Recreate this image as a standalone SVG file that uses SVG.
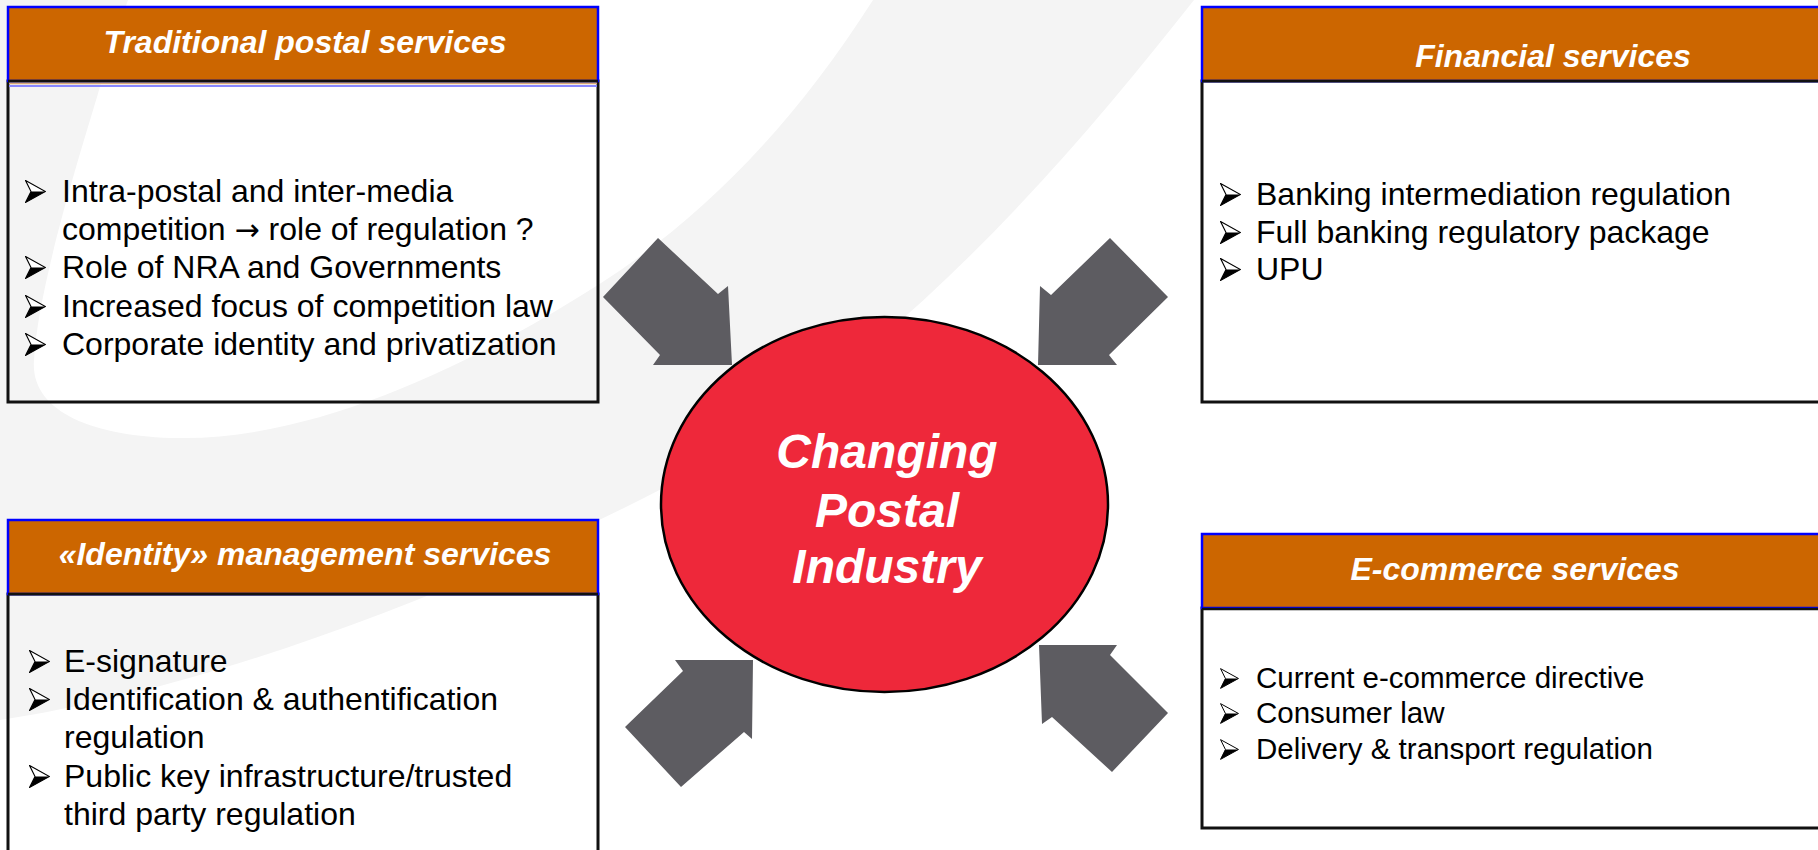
<svg xmlns="http://www.w3.org/2000/svg" xmlns:xlink="http://www.w3.org/1999/xlink" width="1818" height="850" viewBox="0 0 1818 850">
  <style>
    .hdr { fill: #CC6600; stroke: #0000FF; stroke-width: 2.5; }
    .body { fill: none; stroke: #111111; stroke-width: 3; }
    .htxt { font-family: "Liberation Sans", Arial, sans-serif; font-size: 32px; font-weight: bold; font-style: italic; fill: #FFFFFF; text-anchor: middle; }
    .btxt { font-family: "Liberation Sans", Arial, sans-serif; font-size: 32px; fill: #000000; }
    .btxt.sm { font-size: 29.5px; }
    .sym { font-family: "DejaVu Sans", sans-serif; font-size: 30px; }
    .ctxt { font-family: "Liberation Sans", Arial, sans-serif; font-size: 48px; font-weight: bold; font-style: italic; fill: #FFFFFF; text-anchor: middle; }
    .arrow { fill: #5D5C61; }
  </style>
  <defs>
    <!-- 3D arrowhead bullet -->
    <symbol id="bullet" viewBox="0 0 21 23">
      <path d="M0.6,0.6 L20.4,11.5 L0.6,22.4 L6,11.5 Z" fill="#FFFFFF" stroke="#000000" stroke-width="1.1" stroke-linejoin="miter"/>
      <path d="M6,11.5 L20.4,11.5 L0.6,22.4 Z" fill="#000000"/>
    </symbol>
  </defs>

  <rect width="1818" height="850" fill="#FFFFFF"/>

  <!-- faint background swoosh -->
  <path fill="#F4F4F4" fill-rule="evenodd"
        d="M0,0 H1194 C1060,170 880,380 640,500 C440,600 200,690 0,720 Z
           M873,0 C790,130 700,220 598,285 C480,360 320,440 179,438 C90,437 30,410 34,360 C38,290 75,170 97,97 C106,65 118,30 128,0 Z"/>

  <!-- Traditional postal services -->
  <g id="traditional">
    <rect class="body" x="8" y="81" width="590" height="321"/>
    <rect class="hdr" x="8" y="7" width="590" height="74"/>
    <line x1="8" y1="81" x2="598" y2="81" stroke="#111111" stroke-width="2.5"/>
    <line x1="9" y1="83.5" x2="597" y2="83.5" stroke="#D8A878" stroke-width="1.5"/>
    <line x1="9" y1="86" x2="597" y2="86" stroke="#8888FF" stroke-width="2"/>
    <text class="htxt" x="305" y="53">Traditional postal services</text>
    <use href="#bullet" x="25" y="180" width="21" height="23"/>
    <use href="#bullet" x="25" y="256" width="21" height="23"/>
    <use href="#bullet" x="25" y="295" width="21" height="23"/>
    <use href="#bullet" x="25" y="333" width="21" height="23"/>
    <text class="btxt" x="62" y="202">Intra-postal and inter-media</text>
    <text class="btxt" x="62" y="240">competition <tspan class="sym">→</tspan> role of regulation ?</text>
    <text class="btxt" x="62" y="278">Role of NRA and Governments</text>
    <text class="btxt" x="62" y="317">Increased focus of competition law</text>
    <text class="btxt" x="62" y="355">Corporate identity and privatization</text>
  </g>

  <!-- Financial services -->
  <g id="financial">
    <rect class="body" x="1202" y="81" width="640" height="321"/>
    <rect class="hdr" x="1202" y="7" width="640" height="74"/>
    <line x1="1202" y1="81" x2="1842" y2="81" stroke="#111111" stroke-width="2.5"/>
    <text class="htxt" x="1553" y="67">Financial services</text>
    <use href="#bullet" x="1220" y="183" width="21" height="23"/>
    <use href="#bullet" x="1220" y="221" width="21" height="23"/>
    <use href="#bullet" x="1220" y="258" width="21" height="23"/>
    <text class="btxt" x="1256" y="205">Banking intermediation regulation</text>
    <text class="btxt" x="1256" y="243">Full banking regulatory package</text>
    <text class="btxt" x="1256" y="280">UPU</text>
  </g>

  <!-- Identity management services -->
  <g id="identity">
    <rect class="body" x="8" y="594" width="590" height="270"/>
    <rect class="hdr" x="8" y="520" width="590" height="74"/>
    <line x1="8" y1="594" x2="598" y2="594" stroke="#111111" stroke-width="2.5"/>
    <text class="htxt" x="305" y="565">«Identity» management services</text>
    <use href="#bullet" x="29" y="650" width="21" height="23"/>
    <use href="#bullet" x="29" y="688" width="21" height="23"/>
    <use href="#bullet" x="29" y="765" width="21" height="23"/>
    <text class="btxt" x="64" y="672">E-signature</text>
    <text class="btxt" x="64" y="710">Identification &amp; authentification</text>
    <text class="btxt" x="64" y="748">regulation</text>
    <text class="btxt" x="64" y="787">Public key infrastructure/trusted</text>
    <text class="btxt" x="64" y="825">third party regulation</text>
  </g>

  <!-- E-commerce services -->
  <g id="ecommerce">
    <rect class="body" x="1202" y="608" width="640" height="220"/>
    <rect class="hdr" x="1202" y="534" width="640" height="74"/>
    <line x1="1202" y1="609" x2="1842" y2="609" stroke="#111111" stroke-width="2.5"/>
    <text class="htxt" x="1515" y="580">E-commerce services</text>
    <use href="#bullet" x="1220" y="668" width="19" height="21"/>
    <use href="#bullet" x="1220" y="703" width="19" height="21"/>
    <use href="#bullet" x="1220" y="739" width="19" height="21"/>
    <text class="btxt sm" x="1256" y="688">Current e-commerce directive</text>
    <text class="btxt sm" x="1256" y="723">Consumer law</text>
    <text class="btxt sm" x="1256" y="759">Delivery &amp; transport regulation</text>
  </g>

  <!-- block arrows pointing at the centre -->
  <g id="connectors">
    <polygon class="arrow" points="603,297 658,238 718,294 728,286 732,365 653,365 660,355"/>
    <polygon class="arrow" points="1168,297 1110,238 1051,295 1040,286 1038,365 1117,365 1109,355"/>
    <polygon class="arrow" points="625,727 683,671 675,660 753,660 752,739 744,732 681,787"/>
    <polygon class="arrow" points="1039,645 1117,645 1110,655 1168,713 1112,772 1052,717 1042,724"/>
  </g>

  <!-- centre -->
  <g id="center">
    <ellipse cx="884.5" cy="504.5" rx="223.5" ry="187.5" fill="#EE283A" stroke="#000000" stroke-width="2.5"/>
    <text class="ctxt" x="887" y="468">Changing</text>
    <text class="ctxt" x="887" y="527">Postal</text>
    <text class="ctxt" x="887" y="583">Industry</text>
  </g>
</svg>
